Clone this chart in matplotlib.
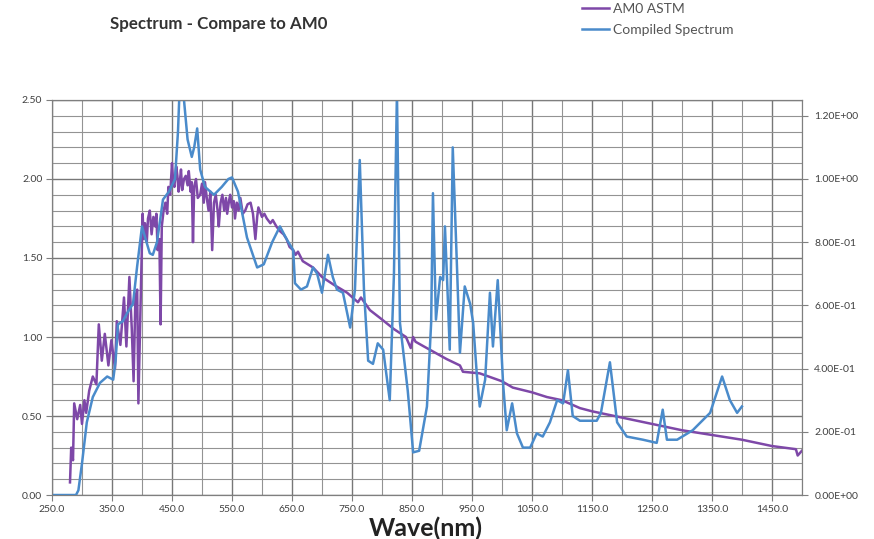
# Spectrum - compare compiled spectrum to AM0 (ASTM)
import numpy as np
import matplotlib
matplotlib.use('Agg')
import matplotlib.pyplot as plt
from matplotlib.ticker import MultipleLocator, FormatStrFormatter, FuncFormatter

plt.rcParams['font.family'] = ['Lato', 'DejaVu Sans']

# AM0 ASTM (left axis)
am0_nm = [280, 282, 285, 287, 292, 297, 300, 304, 307, 312,
          318, 324, 328, 333, 338, 344, 349, 355, 358, 364,
          370, 374, 379, 383, 386, 389, 392, 394, 397, 401,
          403, 405, 408, 410, 413, 416, 419, 422, 424, 426,
          429, 431, 433, 436, 439, 442, 444, 447, 450, 452,
          454, 457, 459, 461, 463, 465, 467, 470, 473, 476,
          478, 481, 483, 485, 487, 490, 493, 497, 500, 503,
          505, 508, 511, 514, 517, 520, 523, 526, 528, 531,
          534, 537, 540, 542, 545, 547, 550, 553, 555, 558,
          561, 564, 568, 572, 576, 581, 585, 589, 592, 594,
          600, 604, 608, 614, 618, 624, 630, 636, 641, 646,
          652, 656, 660, 668, 685, 700, 720, 742, 760, 765,
          780, 797, 820, 840, 848, 852, 856, 870, 908, 930,
          935, 963, 1000, 1018, 1050, 1075, 1100, 1130, 1150, 1200,
          1250, 1300, 1350, 1400, 1450, 1490, 1493, 1500]
am0_val = [0.08, 0.30, 0.22, 0.58, 0.48, 0.57, 0.45, 0.60, 0.52, 0.66,
           0.75, 0.70, 1.08, 0.85, 1.02, 0.82, 0.98, 0.80, 1.10, 0.95,
           1.25, 0.94, 1.38, 1.05, 0.72, 1.25, 1.30, 0.58, 1.10, 1.78,
           1.62, 1.72, 1.60, 1.75, 1.80, 1.65, 1.76, 1.70, 1.78, 1.55,
           1.62, 1.08, 1.70, 1.80, 1.85, 1.78, 1.95, 1.90, 2.10, 1.98,
           1.95, 2.08, 2.02, 1.92, 1.98, 2.06, 1.93, 2.00, 2.02, 1.96,
           2.05, 1.92, 1.98, 1.60, 1.95, 2.00, 1.88, 1.90, 1.97, 1.85,
           1.98, 1.88, 1.80, 1.92, 1.55, 1.85, 1.90, 1.80, 1.70, 1.85,
           1.90, 1.80, 1.88, 1.78, 1.86, 1.90, 1.82, 1.86, 1.75, 1.85,
           1.80, 1.88, 1.78, 1.80, 1.84, 1.85, 1.78, 1.62, 1.76, 1.82,
           1.76, 1.78, 1.75, 1.72, 1.74, 1.70, 1.67, 1.65, 1.62, 1.57,
           1.55, 1.52, 1.54, 1.48, 1.44, 1.38, 1.33, 1.28, 1.22, 1.25,
           1.17, 1.12, 1.05, 1.00, 0.93, 1.00, 0.97, 0.94, 0.86, 0.82,
           0.78, 0.77, 0.72, 0.68, 0.65, 0.62, 0.60, 0.55, 0.53, 0.49,
           0.45, 0.41, 0.38, 0.35, 0.31, 0.29, 0.25, 0.28]

# Compiled spectrum (right axis)
comp_nm = [250, 290, 294, 300, 308, 318, 330, 342, 352, 356,
           360, 368, 375, 385, 392, 400, 406, 413, 418, 425,
           435, 445, 455, 460, 465, 470, 476, 483, 487, 492,
           497, 505, 520, 533, 544, 550, 560, 575, 592, 603,
           617, 630, 641, 652, 655, 665, 675, 685, 692, 700,
           710, 718, 725, 735, 747, 755, 763, 770, 777, 785,
           793, 802, 813, 820, 825, 830, 843, 852, 862, 875,
           882, 885, 890, 897, 902, 905, 909, 913, 918, 925,
           930, 938, 947, 952, 958, 963, 972, 980, 985, 993,
           1002, 1008, 1017, 1025, 1035, 1047, 1058, 1068, 1080, 1092,
           1102, 1110, 1118, 1130, 1158, 1165, 1180, 1192, 1208, 1235,
           1258, 1268, 1275, 1292, 1318, 1347, 1367, 1380, 1392, 1400]
comp_val = [0, 0, 0.015, 0.10, 0.23, 0.31, 0.355, 0.375, 0.365, 0.425,
            0.54, 0.55, 0.575, 0.605, 0.725, 0.85, 0.81, 0.765, 0.76, 0.80,
            0.935, 0.96, 1.00, 1.15, 1.40, 1.25, 1.125, 1.07, 1.10, 1.16,
            1.03, 0.975, 0.95, 0.975, 1.00, 1.005, 0.96, 0.815, 0.72, 0.73,
            0.80, 0.85, 0.81, 0.775, 0.67, 0.65, 0.66, 0.72, 0.70, 0.64,
            0.76, 0.69, 0.65, 0.64, 0.53, 0.65, 1.06, 0.65, 0.425, 0.415,
            0.48, 0.46, 0.30, 0.70, 1.275, 0.545, 0.33, 0.135, 0.14, 0.28,
            0.545, 0.955, 0.555, 0.69, 0.68, 0.85, 0.66, 0.46, 1.10, 0.725,
            0.45, 0.66, 0.605, 0.545, 0.385, 0.28, 0.365, 0.64, 0.47, 0.68,
            0.35, 0.205, 0.29, 0.195, 0.15, 0.15, 0.195, 0.185, 0.23, 0.30,
            0.29, 0.395, 0.25, 0.235, 0.235, 0.26, 0.42, 0.23, 0.185, 0.175,
            0.165, 0.27, 0.175, 0.175, 0.205, 0.26, 0.375, 0.30, 0.26, 0.28]

purple = '#7E48A8'
blue = '#4A8BCB'
txt = '#404040'

fig = plt.figure(figsize=(8.74, 5.39), dpi=100)
ax = fig.add_axes([0.0595, 0.0816, 0.858, 0.7329])
ax2 = ax.twinx()

ax.plot(am0_nm, am0_val, color=purple, lw=1.8, label='AM0 ASTM')
ax2.plot(comp_nm, comp_val, color=blue, lw=1.8, label='Compiled Spectrum')

ax.set_xlim(250, 1500)
ax.set_ylim(0, 2.5)
ax2.set_ylim(0, 1.25)

ax.xaxis.set_major_locator(MultipleLocator(100, offset=50))
ax.xaxis.set_minor_locator(MultipleLocator(50))
ax.xaxis.set_major_formatter(FormatStrFormatter('%.1f'))
ax.yaxis.set_major_locator(MultipleLocator(0.5))
ax.yaxis.set_minor_locator(MultipleLocator(0.1))
ax.yaxis.set_major_formatter(FormatStrFormatter('%.2f'))
ax2.yaxis.set_major_locator(MultipleLocator(0.2))
ax2.yaxis.set_major_formatter(FuncFormatter(lambda v, p: '%.2E' % v))

ax.grid(which='major', color='#777777', lw=1.0)
ax.grid(which='minor', color='#939393', lw=0.8)
ax.set_axisbelow(True)

ax.tick_params(which='major', length=4, width=0.8, color='#7f7f7f',
               labelsize=7.5, labelcolor=txt, pad=3)
ax.tick_params(which='minor', length=0)
ax2.tick_params(which='major', length=4, width=0.8, color='#7f7f7f',
                labelsize=7.5, labelcolor=txt, pad=5)
for a in (ax, ax2):
    for s in a.spines.values():
        s.set_color('#7f7f7f')
        s.set_linewidth(0.8)

ax.set_xlabel('Wave(nm)', fontsize=18, fontweight='bold', color='#222222')
ax.xaxis.label.set_va('center')
ax.xaxis.set_label_coords(0.499, -0.084)

fig.text(0.2506, 0.9555, 'Spectrum - Compare to AM0', fontsize=12.2,
         fontweight='bold', color='#333333', ha='center', va='center')

h1, l1 = ax.get_legend_handles_labels()
h2, l2 = ax2.get_legend_handles_labels()
fig.legend(h1 + h2, l1 + l2, loc='upper left', bbox_to_anchor=(0.666, 0.994),
           frameon=False, fontsize=10, handlelength=1.95, handletextpad=0.25,
           labelspacing=0.65, borderpad=0, borderaxespad=0, labelcolor='#555555')

fig.savefig('out.png', dpi=100)
